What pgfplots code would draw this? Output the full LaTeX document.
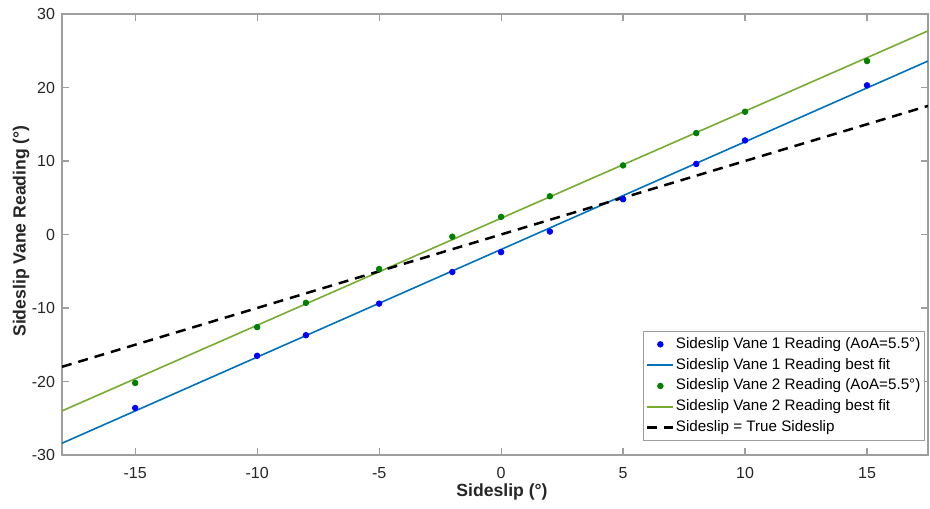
\documentclass[border=0pt]{standalone}
\usepackage{fontspec}
\setmainfont{Liberation Sans}
\usepackage{pgfplots}
\pgfplotsset{compat=1.18}
\definecolor{fitblue}{rgb}{0,0.447,0.741}
\definecolor{fitgreen}{rgb}{0.466,0.674,0.188}
\definecolor{ptgreen}{rgb}{0,0.5,0}
\definecolor{axgray}{rgb}{0.62,0.62,0.62}
\definecolor{txt}{rgb}{0.15,0.15,0.15}
\pgfplotsset{
  markleg/.style={legend image code/.code={\draw[##1, mark repeat=2, mark phase=2] plot coordinates {(0cm,0cm) (0.23cm,0cm) (0.46cm,0cm)};}},
  lineleg/.style={legend image code/.code={\draw[##1] (0cm,0cm) -- (0.46cm,0cm);}},
}
\begin{document}
\begin{tikzpicture}
\begin{axis}[
  scale only axis, width=433pt, height=220.5pt,
  xmin=-18, xmax=17.5, ymin=-30, ymax=30,
  xtick={-15,-10,...,15}, ytick={-30,-20,...,30},
  tick align=inside, major tick length=3.5pt,
  axis line style={axgray, line width=0.6pt},
  every tick/.style={axgray, line width=0.6pt},
  tick label style={font=\fontsize{8}{9}\selectfont, text=txt},
  xticklabel style={yshift=-2.5pt},
  /pgf/number format/assume math mode=true,
  xlabel={Sideslip (°)}, ylabel={Sideslip Vane Reading (°)},
  label style={font=\fontsize{8.8}{10}\selectfont\bfseries, text=txt},
  xlabel style={at={(axis description cs:0.5,0)}, anchor=center, xshift=3.5pt, yshift=-18.3pt},
  ylabel style={at={(axis description cs:0,0.5)}, anchor=center, rotate=0, xshift=1.75pt, yshift=20.5pt},
  legend style={draw=axgray, at={(1,0)}, anchor=south east, xshift=-1.5pt, yshift=7pt,
    font=\fontsize{7.6}{9}\selectfont, text=black, inner xsep=1.5pt, inner ysep=1pt,
    row sep=-0.6pt, cells={anchor=west}, nodes={inner xsep=0.6pt}},
  legend cell align=left,
]
\addplot[only marks, mark=*, mark size=1.4pt, color=blue, markleg]
  coordinates {(-15,-23.6) (-10,-16.5) (-8,-13.7) (-5,-9.4) (-2,-5.1) (0,-2.4) (2,0.4) (5,4.8) (8,9.6) (10,12.8) (15,20.3)};
\addlegendentry{Sideslip Vane 1 Reading (AoA=5.5°)}
\addplot[fitblue, line width=0.8pt, lineleg]
  coordinates {(-18,-28.4) (17.5,23.6)};
\addlegendentry{Sideslip Vane 1 Reading best fit}
\addplot[only marks, mark=*, mark size=1.4pt, color=ptgreen, markleg]
  coordinates {(-15,-20.2) (-10,-12.6) (-8,-9.3) (-5,-4.7) (-2,-0.3) (0,2.4) (2,5.2) (5,9.4) (8,13.8) (10,16.7) (15,23.6)};
\addlegendentry{Sideslip Vane 2 Reading (AoA=5.5°)}
\addplot[fitgreen, line width=0.8pt, lineleg]
  coordinates {(-18,-24.0) (17.5,27.7)};
\addlegendentry{Sideslip Vane 2 Reading best fit}
\addplot[black, line width=1.25pt, dash pattern=on 5pt off 3.5pt, lineleg]
  coordinates {(-18,-18) (17.5,17.5)};
\addlegendentry{Sideslip = True Sideslip}
\end{axis}
\pgfresetboundingbox
\path[use as bounding box] ([shift={(-31pt,-26.5pt)}]current axis.south west) rectangle ([shift={(1pt,7pt)}]current axis.north east);
\end{tikzpicture}
\end{document}
